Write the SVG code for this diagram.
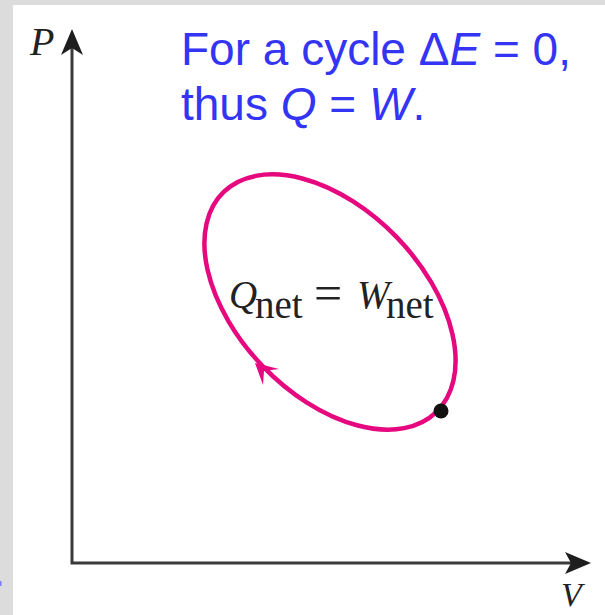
<svg xmlns="http://www.w3.org/2000/svg" width="605" height="615" viewBox="0 0 605 615">
<style>
.axis{stroke:#3a3a3a;stroke-width:3;fill:none}
.head{fill:#1e1e1e}
.cyc{stroke:#e5087f;stroke-width:4.5;fill:none}
.blue{font-family:"Liberation Sans",Arial,sans-serif;font-size:46px;fill:#3434f4}
.serif{font-family:"Liberation Serif","Times New Roman",serif;fill:#222}
</style>
<rect width="605" height="615" fill="#dcdcdc"/>
<rect x="13" y="5" width="592" height="610" fill="#ffffff"/>
<rect x="0" y="581" width="1.5" height="5" fill="#7b7bff"/>
<g id="axes">
<path class="axis" d="M72,48 V563 H572"/>
<path class="head" d="M72,29 L83,55 L72,48 L61,55 Z"/>
<path class="head" d="M591,563 L565,552 L571,563 L565,574 Z"/>
</g>
<g id="axis-labels">
<text class="serif" x="30" y="55" font-size="40" font-style="italic">P</text>
<text class="serif" x="561" y="606" font-size="34" font-style="italic">V</text>
</g>
<g id="title">
<text class="blue" x="181" y="65">For a cycle Δ<tspan font-style="italic">E</tspan> = 0,</text>
<text class="blue" x="181" y="120">thus <tspan font-style="italic">Q</tspan> = <tspan font-style="italic">W</tspan>.</text>
</g>
<g id="cycle">
<ellipse class="cyc" cx="330" cy="302" rx="153" ry="93" transform="rotate(46 330 302)"/>
<path d="M255,363 L279,369 L264,371 L263,385 Z" fill="#e5087f"/>
<circle cx="441" cy="411" r="7.5" fill="#111"/>
</g>
<g id="equation">
<text class="serif" font-size="39"><tspan x="229" y="308" font-style="italic">Q</tspan><tspan x="255" y="318">net</tspan><tspan x="314" y="310" font-size="50">=</tspan><tspan x="357" y="308" font-style="italic">W</tspan><tspan x="386" y="318">net</tspan></text>
</g>
</svg>
